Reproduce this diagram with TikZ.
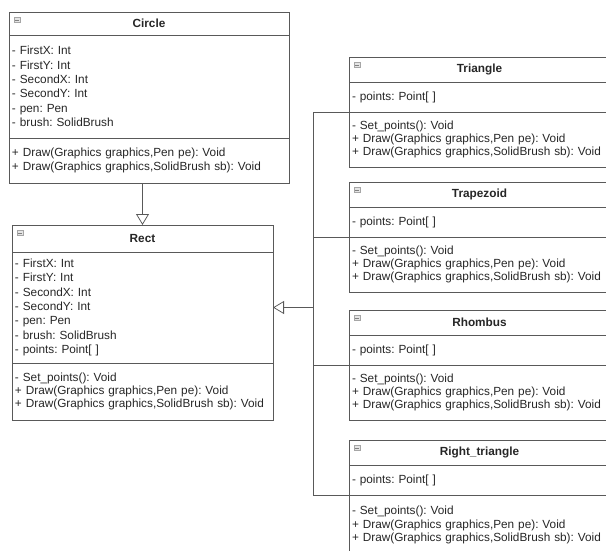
\documentclass[tikz,border=0pt]{standalone}
\usepackage{fontspec}
\setmainfont{Liberation Sans}
\usepackage{tikz}
\usetikzlibrary{positioning,arrows.meta}
\frenchspacing

\tikzset{
  box/.style={draw=black!65, line width=0.9pt, outer sep=0pt, inner xsep=3pt, inner ysep=0pt, text=black!85},
  head/.style={box, align=center, font=\fontsize{11.8}{14}\selectfont\bfseries},
  attrs/.style={box, align=left, font=\fontsize{11.8}{14.3}\selectfont},
  meths/.style={box, align=left, font=\fontsize{11.8}{13.3}\selectfont},
  icon/.style={draw=gray!70, fill=gray!20, line width=0.4pt, minimum width=6pt, minimum height=5pt, inner sep=0pt,
    path picture={\draw[gray, line width=0.5pt] ([xshift=1pt]path picture bounding box.west) -- ([xshift=-1pt]path picture bounding box.east);}},
  inherit/.style={draw=black!65, line width=0.8pt, -{Triangle[open, length=11pt, width=13pt]}}
}

\begin{document}
\begin{tikzpicture}[x=1pt, y=-1pt]
        \useasboundingbox (0,0) rectangle (606,551);
        \clip (0,0) rectangle (606,551);

        % Circle
        \node[head, anchor=north west, minimum width=280pt, minimum height=23pt, text width=274pt] (ctitle) at (9,12) {Circle};
        \node[attrs, below=0pt of ctitle, minimum width=280pt, minimum height=103pt, text width=274pt] (cattr)
            {- FirstX: Int\\- FirstY: Int\\- SecondX: Int\\- SecondY: Int\\- pen: Pen\\- brush: SolidBrush};
        \node[meths, below=0pt of cattr, minimum width=280pt, minimum height=45pt, text width=274pt] (cmeth)
            {+ Draw(Graphics graphics,Pen pe): Void\\+ Draw(Graphics graphics,SolidBrush sb): Void};
        \node[icon] (cicon) at ([xshift=8pt, yshift=-8pt]ctitle.north west) {};

        % Rect
        \node[head, anchor=north west, minimum width=261pt, minimum height=27pt, text width=255pt] (rtitle) at (12,225) {Rect};
        \node[attrs, below=0pt of rtitle, minimum width=261pt, minimum height=111pt, text width=255pt] (rattr)
            {- FirstX: Int\\- FirstY: Int\\- SecondX: Int\\- SecondY: Int\\- pen: Pen\\- brush: SolidBrush\\- points: Point[ ]};
        \node[meths, below=0pt of rattr, minimum width=261pt, minimum height=57pt, text width=255pt] (rmeth)
            {- Set\_points(): Void\\+ Draw(Graphics graphics,Pen pe): Void\\+ Draw(Graphics graphics,SolidBrush sb): Void};
        \node[icon] (ricon) at ([xshift=8pt, yshift=-8pt]rtitle.north west) {};

        % Triangle
        \node[head, anchor=north west, minimum width=261pt, minimum height=25pt, text width=255pt] (ttitle) at (349,57) {Triangle};
        \node[attrs, below=0pt of ttitle, minimum width=261pt, minimum height=30pt, text width=255pt] (tattr) {- points: Point[ ]};
        \node[meths, below=0pt of tattr, minimum width=261pt, minimum height=55pt, text width=255pt] (tmeth)
            {- Set\_points(): Void\\+ Draw(Graphics graphics,Pen pe): Void\\+ Draw(Graphics graphics,SolidBrush sb): Void};
        \node[icon] (ticon) at ([xshift=8pt, yshift=-8pt]ttitle.north west) {};

        % Trapezoid
        \node[head, anchor=north west, minimum width=261pt, minimum height=25pt, text width=255pt] (ztitle) at (349,182) {Trapezoid};
        \node[attrs, below=0pt of ztitle, minimum width=261pt, minimum height=30pt, text width=255pt] (zattr) {- points: Point[ ]};
        \node[meths, below=0pt of zattr, minimum width=261pt, minimum height=55pt, text width=255pt] (zmeth)
            {- Set\_points(): Void\\+ Draw(Graphics graphics,Pen pe): Void\\+ Draw(Graphics graphics,SolidBrush sb): Void};
        \node[icon] (zicon) at ([xshift=8pt, yshift=-8pt]ztitle.north west) {};

        % Rhombus
        \node[head, anchor=north west, minimum width=261pt, minimum height=25pt, text width=255pt] (htitle) at (349,310) {Rhombus};
        \node[attrs, below=0pt of htitle, minimum width=261pt, minimum height=30pt, text width=255pt] (hattr) {- points: Point[ ]};
        \node[meths, below=0pt of hattr, minimum width=261pt, minimum height=55pt, text width=255pt] (hmeth)
            {- Set\_points(): Void\\+ Draw(Graphics graphics,Pen pe): Void\\+ Draw(Graphics graphics,SolidBrush sb): Void};
        \node[icon] (hicon) at ([xshift=8pt, yshift=-8pt]htitle.north west) {};

        % Right_triangle
        \node[head, anchor=north west, minimum width=261pt, minimum height=25pt, text width=255pt] (qtitle) at (349,440) {Right\_triangle};
        \node[attrs, below=0pt of qtitle, minimum width=261pt, minimum height=30pt, text width=255pt] (qattr) {- points: Point[ ]};
        \node[meths, below=0pt of qattr, minimum width=261pt, minimum height=60pt, text width=255pt] (qmeth)
            {- Set\_points(): Void\\+ Draw(Graphics graphics,Pen pe): Void\\+ Draw(Graphics graphics,SolidBrush sb): Void};
        \node[icon] (qicon) at ([xshift=8pt, yshift=-8pt]qtitle.north west) {};

        % inheritance
        \coordinate (bus) at ([xshift=40pt]rattr.east);
        \draw[inherit] (cmeth.south -| rtitle.north) -- (rtitle.north);
        \draw[inherit] (bus) -- (rattr.east);
        \draw[draw=black!65, line width=0.8pt] (tattr.south west) -| (bus);
        \draw[draw=black!65, line width=0.8pt] (zattr.south west) -| (bus);
        \draw[draw=black!65, line width=0.8pt] (hattr.south west) -| (bus);
        \draw[draw=black!65, line width=0.8pt] (qattr.south west) -| (bus);
    \end{tikzpicture}
\end{document}
